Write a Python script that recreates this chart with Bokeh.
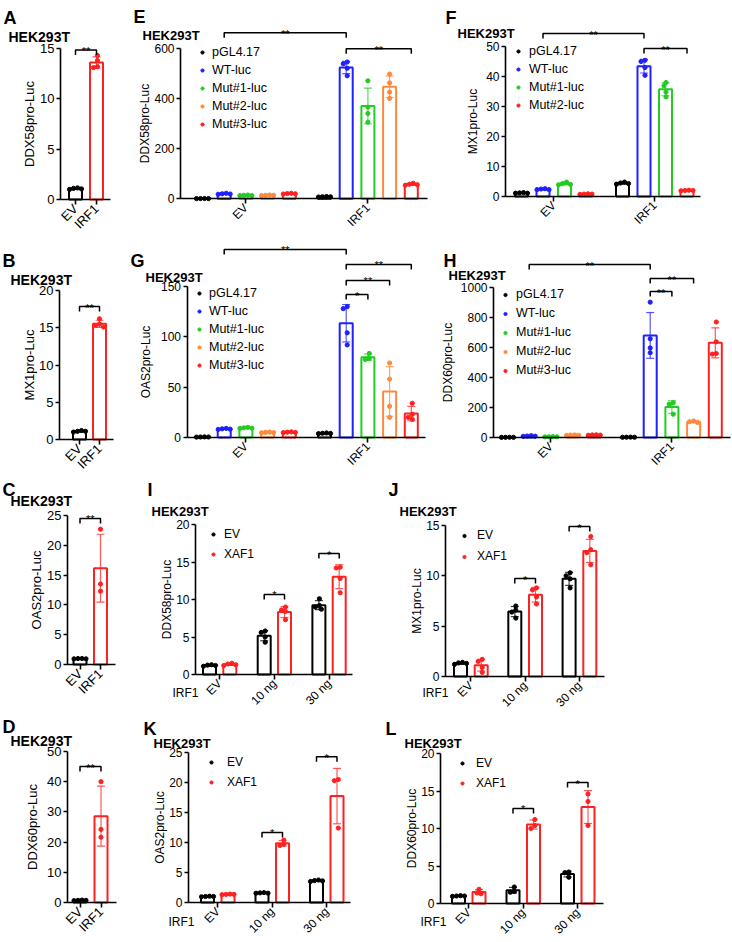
import math
import numpy as np
from bokeh.plotting import figure
from bokeh.models import (Range1d, FixedTicker, Label, Legend, LegendItem,
                          CustomJSTickFormatter)
from bokeh.layouts import row, column
from bokeh.embed import file_html
from bokeh.resources import INLINE
from bokeh.core.properties import value

FONT = "Liberation Sans"
SX = 1.0
SY = 1.0

BLACK = "#000000"
BLUE = "#1f1fff"
GREEN = "#22cc22"
ORANGE = "#ff8a3d"
RED = "#ff2020"

# ---------------- data ----------------
AD_CATS = ["EV", "IRF1"]
A_EV = [1.15, 1.10, 1.05, 1.00]
A_IRF1 = [14.3, 13.8, 13.2, 13.1]
B_EV = [1.20, 1.10, 1.10, 1.00]
B_IRF1 = [16.2, 15.5, 15.3, 15.1]
C_EV = [1.00, 1.00, 0.95, 0.95]
C_IRF1 = [22.7, 13.5, 12.3]
D_EV = [0.80, 0.70, 0.70, 0.60]
D_IRF1 = [40.0, 24.2, 21.6]
A_TICKS = [0, 5, 10, 15]
B_TICKS = [0, 5, 10, 15, 20]
C_TICKS = [0, 5, 10, 15, 20, 25]
D_TICKS = [0, 10, 20, 30, 40, 50]

EH_CATS = ["EV", "IRF1"]
SERIES5 = ["pGL4.17", "WT-luc", "Mut#1-luc", "Mut#2-luc", "Mut#3-luc"]
SERIES4 = ["pGL4.17", "WT-luc", "Mut#1-luc", "Mut#2-luc"]

E_pGL = [[1.2, 1.0, 0.9, 0.8], [9, 8, 8, 7]]
E_WT = [[22, 20, 19, 18], [545, 538, 520, 490]]
E_Mut1 = [[15, 14, 13, 13], [470, 365, 340, 305]]
E_Mut2 = [[15, 14, 14, 13], [497, 462, 425, 400]]
E_Mut3 = [[22, 21, 20, 19], [62, 58, 56, 54]]
E_TICKS = [0, 200, 400, 600]

F_pGL = [[1.3, 1.2, 1.1, 1.1], [4.8, 4.5, 4.3, 4.1]]
F_WT = [[2.6, 2.5, 2.3, 2.3], [45.4, 45.0, 43.0, 40.4]]
F_Mut1 = [[4.8, 4.3, 4.0, 3.9], [38.0, 36.9, 34.8, 33.2]]
F_Mut2 = [[0.9, 0.8, 0.8, 0.7], [2.1, 2.0, 2.0, 1.9]]
F_TICKS = [0, 10, 20, 30, 40, 50]

G_pGL = [[0.6, 0.5, 0.5, 0.4], [4.5, 4.2, 4.0, 3.8]]
G_WT = [[9.0, 8.6, 8.3, 8.0], [130, 128, 104, 92]]
G_Mut1 = [[10.0, 9.6, 9.3, 9.0], [83.5, 78.5, 77.5]]
G_Mut2 = [[5.4, 5.1, 4.9, 4.7], [74, 58, 31, 20]]
G_Mut3 = [[5.6, 5.3, 5.1, 4.9], [34, 23, 20, 18]]
G_TICKS = [0, 50, 100, 150]

H_pGL = [[1.5, 1.2, 1.0, 0.8], [2.5, 2.0, 1.8, 1.5]]
H_WT = [[12, 10, 9, 8], [902, 658, 597, 565]]
H_Mut1 = [[6, 5, 5, 4], [232, 222, 155]]
H_Mut2 = [[17, 16, 15, 14], [110, 105, 100]]
H_Mut3 = [[18, 17, 16, 15], [770, 638, 560, 556]]
H_TICKS = [0, 200, 400, 600, 800, 1000]

IL_CATS = ["EV", "10 ng", "30 ng"]
IL_SERIES = ["EV", "XAF1"]
I_EV = [[1.3, 1.25, 1.2, 1.1], [5.8, 5.6, 5.0, 4.3], [10.1, 9.2, 9.0, 8.7]]
I_XAF1 = [[1.5, 1.4, 1.3, 1.2], [9.0, 8.6, 8.4, 7.3], [14.3, 14.2, 12.8, 10.9]]
I_TICKS = [0, 5, 10, 15, 20]
J_EV = [[1.4, 1.35, 1.3, 1.2], [7.0, 6.6, 6.4, 5.8], [10.3, 10.0, 9.7, 8.8]]
J_XAF1 = [[1.7, 1.5, 0.9, 0.4], [8.8, 8.6, 7.9, 7.2], [13.9, 12.6, 12.3, 11.1]]
J_TICKS = [0, 5, 10, 15]
K_EV = [[1.05, 1.0, 1.0, 0.95], [1.65, 1.6, 1.55, 1.55], [3.75, 3.65, 3.6, 3.5]]
K_XAF1 = [[1.4, 1.35, 1.35, 1.3], [10.4, 9.7, 9.5], [20.5, 20.3, 12.4]]
K_TICKS = [0, 5, 10, 15, 20, 25]
L_EV = [[1.05, 1.0, 1.0, 0.95], [2.2, 1.6, 1.5], [4.2, 4.1, 3.5]]
L_XAF1 = [[1.9, 1.4, 1.3], [11.2, 10.4, 10.0], [14.6, 13.6, 10.4]]
L_TICKS = [0, 5, 10, 15, 20]

# brackets: (group a, position a, group b, position b, height, stars)
A_BR = [(0, 0, 1, 0, 14.85, "**")]
B_BR = [(0, 0, 1, 0, 17.85, "**")]
C_BR = [(0, 0, 1, 0, 24.5, "**")]
D_BR = [(0, 0, 1, 0, 45.0, "**")]
E_BR = [(0, 1, 1, 1, 662, "**"), (1, 1, 1, 4, 598, "**")]
F_BR = [(0, 1, 1, 1, 54.3, "**"), (1, 1, 1, 3, 49.3, "**")]
G_BR = [(0, 1, 1, 1, 186.8, "**"), (1, 1, 1, 4, 171.9, "**"),
        (1, 1, 1, 3, 156.0, "**"), (1, 1, 1, 2, 142.0, "*")]
H_BR = [(0, 1, 1, 1, 1153, "**"), (1, 1, 1, 3, 1060, "**"), (1, 1, 1, 2, 973, "**")]
I_BR = [(1, 0, 1, 1, 10.67, "*"), (2, 0, 2, 1, 16.13, "*")]
J_BR = [(1, 0, 1, 1, 9.73, "*"), (2, 0, 2, 1, 14.9, "*")]
K_BR = [(1, 0, 1, 1, 11.67, "*"), (2, 0, 2, 1, 24.3, "*")]
L_BR = [(1, 0, 1, 1, 12.67, "*"), (2, 0, 2, 1, 16.13, "*")]


def swarm(vals, ppu, d=4.0):
    order = sorted(range(len(vals)), key=lambda i: -vals[i])
    placed = []
    offs = [0.0] * len(vals)
    cands = [0, -0.5, 0.5, -1, 1, -1.5, 1.5, -2, 2]
    for i in order:
        yv = vals[i] * ppu
        xo = 0.0
        for c in cands:
            xo = c * d
            if all((xo - px) ** 2 + (yv - py) ** 2 >= 0.9 * d * d for px, py in placed):
                break
        placed.append((xo, yv))
        offs[i] = xo
    m = sum(offs) / len(offs)
    return [o - m for o in offs]


def build(box, lay, cats, series, ticks, ylabel, brackets, letter, title,
          leg=None, extra=None):
    L, T, R, B = box
    W, H = R - L, B - T
    pitch = lay["pitch"] * SX
    x0 = lay["x0"] * SX
    stride = lay["stride"] / lay["pitch"]
    ay = lay["axis_y"] * SY
    ppu = (lay["axis_y"] - lay["top_y"]) * SY / ticks[-1]
    xs, xe = (L - x0) / pitch, (R - x0) / pitch
    ys, ye = -(B - ay) / ppu, (ay - T) / ppu
    x_axis = (lay["axis_x"] * SX - x0) / pitch
    fs = lay.get("fs", 12)

    p = figure(width=W, height=H, x_range=Range1d(xs, xe), y_range=Range1d(ys, ye),
               output_backend="svg", toolbar_location=None, title=None,
               min_border_left=0, min_border_bottom=0, min_border_top=0,
               min_border_right=0)
    p.outline_line_color = None
    p.xgrid.visible = False
    p.ygrid.visible = False
    p.background_fill_color = "white"
    p.border_fill_color = "white"

    ya = p.yaxis[0]
    ya.fixed_location = x_axis
    ya.ticker = FixedTicker(ticks=ticks)
    ya.bounds = (0, ticks[-1])
    ya.minor_tick_line_color = None
    ya.major_tick_out = 4
    ya.major_tick_in = 0
    ya.axis_line_width = 1.6
    ya.major_tick_line_width = 1.6
    ya.major_label_text_font = FONT
    ya.major_label_text_font_size = f"{fs}px"
    ya.major_label_text_color = "black"
    ya.major_label_standoff = 2
    ya.axis_label = ylabel
    ya.axis_label_text_font = FONT
    ya.axis_label_text_font_size = f"{fs}px"
    ya.axis_label_text_font_style = "normal"
    ya.axis_label_text_color = "black"
    ya.axis_label_standoff = lay.get("lab_so", -1)

    ncat = len(cats)
    centers = [g * stride + lay["center"] for g in range(ncat)]
    xa = p.xaxis[0]
    xa.fixed_location = 0
    xa.ticker = FixedTicker(ticks=centers)
    xa.formatter = CustomJSTickFormatter(args=dict(labels=cats), code="return labels[index];")
    xa.bounds = (x_axis, (lay["axis_end"] * SX - x0) / pitch)
    xa.minor_tick_line_color = None
    xa.major_tick_out = 5
    xa.major_tick_in = 0
    xa.axis_line_width = 1.6
    xa.major_tick_line_width = 1.6
    xa.major_label_orientation = math.pi / 4
    xa.major_label_text_font = FONT
    xa.major_label_text_font_size = f"{fs}px"
    xa.major_label_text_color = "black"
    xa.major_label_standoff = 2

    bw = 13.0 * SX / pitch
    cw = 4.0 * SX / pitch
    rends = []
    for name, color, spos, groups in series:
        bx, bt, px, py = [], [], [], []
        ex, elo, ehi = [], [], []
        for g, pts in enumerate(groups):
            if pts is None:
                continue
            xc = g * stride + spos
            arr = np.array(pts, dtype=float)
            m = float(arr.mean())
            sd = float(arr.std(ddof=1))
            bx.append(xc)
            bt.append(m)
            ex.append(xc)
            elo.append(m - sd)
            ehi.append(m + sd)
            for v, o in zip(pts, swarm(pts, ppu)):
                px.append(xc + o * SX / pitch)
                py.append(v)
        p.vbar(x=bx, top=bt, bottom=0, width=bw, fill_color="white",
               line_color=color, line_width=2)
        p.segment(x0=ex, y0=elo, x1=ex, y1=ehi, line_color=color, line_width=1.2, line_alpha=0.75)
        p.segment(x0=[x - cw for x in ex], y0=ehi, x1=[x + cw for x in ex], y1=ehi,
                  line_color=color, line_width=1.2, line_alpha=0.75)
        p.segment(x0=[x - cw for x in ex], y0=elo, x1=[x + cw for x in ex], y1=elo,
                  line_color=color, line_width=1.2, line_alpha=0.75)
        r = p.scatter(x=px, y=py, size=4.2, marker="circle", fill_color=color,
                      line_color=color)
        rends.append((name, r))

    drop = 5.0 / ppu
    mxs, mys, tx, ty, tt = [], [], [], [], []
    for ga, sa, gb, sb, yv, txt in brackets:
        xa_ = ga * stride + sa
        xb_ = gb * stride + sb
        mxs.append([xa_, xa_, xb_, xb_])
        mys.append([yv - drop, yv, yv, yv - drop])
        tx.append((xa_ + xb_) / 2)
        ty.append(yv - 1.0 / ppu)
        tt.append(txt)
    p.multi_line(xs=mxs, ys=mys, line_color="black", line_width=1.5)
    p.text(x=tx, y=ty, text=tt, text_font=value(FONT), text_font_size="11px",
           text_align="center", text_baseline="alphabetic", text_color="black")

    def lab(txt, xr, yr, size, bold):
        p.add_layout(Label(x=xr * SX - L, y=B - yr * SY, x_units="screen",
                           y_units="screen", text=txt, text_font=FONT,
                           text_font_size=size, text_font_style="bold" if bold else "normal",
                           text_align="left", text_baseline="alphabetic",
                           text_color="black"))

    lab(letter[0], letter[1], letter[2], "18px", True)
    lab("HEK293T", title[0], title[1], title[2], True)
    if extra is not None:
        lab(extra[0], extra[1], extra[2], f"{fs}px", False)

    if leg is not None:
        rh = int(round(leg["row_h"] * SY))
        n = len(rends)
        gw = 8
        vx = leg["dot"] * SX - gw / 2 - L
        top_c = leg["row1"] * SY - rh / 2.0
        vy = B - (top_c + n * rh)
        legend = Legend(items=[LegendItem(label=value(nm), renderers=[r]) for nm, r in rends],
                        location=(vx, vy), orientation="vertical", padding=0, spacing=0,
                        margin=0, glyph_width=gw, glyph_height=rh, label_height=rh,
                        label_standoff=int(round((leg["text"] - leg["dot"]) * SX - gw / 2)),
                        label_text_font=FONT, label_text_font_size=leg["fs"],
                        label_text_color="black",
                        border_line_color=None, background_fill_alpha=0)
        p.add_layout(legend)
    return p


# ---------------- panels ----------------
pA = build((0, 0, 120, 243),
           dict(axis_x=60, axis_y=199, top_y=48, axis_end=110, x0=75, pitch=21, stride=21,
                center=0, fs=13, lab_so=0),
           AD_CATS, [("EV", BLACK, 0, [A_EV, None]), ("IRF1", RED, 0, [None, A_IRF1])],
           A_TICKS, "DDX58pro-Luc", A_BR, ("A", 3, 17.5), (8, 36.7, "14px"))
pB = build((0, 243, 120, 476),
           dict(axis_x=59, axis_y=439, top_y=290, axis_end=113, x0=79, pitch=20, stride=20,
                center=0, fs=13, lab_so=-1),
           AD_CATS, [("EV", BLACK, 0, [B_EV, None]), ("IRF1", RED, 0, [None, B_IRF1])],
           B_TICKS, "MX1pro-Luc", B_BR, ("B", 2, 260.7), (10, 279.3, "14px"))
pC = build((0, 476, 120, 703),
           dict(axis_x=67, axis_y=664, top_y=515, axis_end=115, x0=79.5, pitch=20.5,
                stride=20.5, center=0, fs=13, lab_so=0),
           AD_CATS, [("EV", BLACK, 0, [C_EV, None]), ("IRF1", RED, 0, [None, C_IRF1])],
           C_TICKS, "OAS2pro-Luc", C_BR, ("C", 2, 489), (10, 500.5, "14px"))
pD = build((0, 703, 120, 942),
           dict(axis_x=67, axis_y=902, top_y=751, axis_end=116, x0=79.5, pitch=21, stride=21,
                center=0, fs=13, lab_so=4),
           AD_CATS, [("EV", BLACK, 0, [D_EV, None]), ("IRF1", RED, 0, [None, D_IRF1])],
           D_TICKS, "DDX60pro-Luc", D_BR, ("D", 2, 726), (10, 740, "14px"))

C5 = [BLACK, BLUE, GREEN, ORANGE, RED]
C4 = [BLACK, BLUE, GREEN, RED]

pE = build((120, 0, 440, 241),
           dict(axis_x=180, axis_y=198.3, top_y=47.7, axis_end=427, x0=202, pitch=21.7,
                stride=122, center=2, lab_so=-1),
           EH_CATS, [(SERIES5[i], C5[i], i, d) for i, d in
                     enumerate([E_pGL, E_WT, E_Mut1, E_Mut2, E_Mut3])],
           E_TICKS, "DDX58pro-Luc", E_BR, ("E", 133, 16.7), (142, 35, "13px"),
           leg=dict(dot=202, text=212, row1=52, row_h=18.5, fs="12.5px"))
pF = build((440, 0, 732, 241),
           dict(axis_x=505, axis_y=196, top_y=46, axis_end=700, x0=521, pitch=21.5,
                stride=101, center=1.5, lab_so=3),
           EH_CATS, [(SERIES4[i], C4[i], i, d) for i, d in
                     enumerate([F_pGL, F_WT, F_Mut1, F_Mut2])],
           F_TICKS, "MX1pro-Luc", F_BR, ("F", 445, 17), (457, 33.3, "13px"),
           leg=dict(dot=518, text=529, row1=51, row_h=18.3, fs="12.5px"))
pG = build((120, 241, 440, 476),
           dict(axis_x=186.5, axis_y=437, top_y=286, axis_end=425, x0=202, pitch=21.7,
                stride=122, center=2, lab_so=5),
           EH_CATS, [(SERIES5[i], C5[i], i, d) for i, d in
                     enumerate([G_pGL, G_WT, G_Mut1, G_Mut2, G_Mut3])],
           G_TICKS, "OAS2pro-Luc", G_BR, ("G", 130, 260), (145, 276.7, "13px"),
           leg=dict(dot=199, text=209, row1=293, row_h=18.5, fs="12.5px"))
pH = build((440, 241, 732, 476),
           dict(axis_x=493, axis_y=437, top_y=287, axis_end=730, x0=507, pitch=21.7,
                stride=121, center=2, lab_so=3),
           EH_CATS, [(SERIES5[i], C5[i], i, d) for i, d in
                     enumerate([H_pGL, H_WT, H_Mut1, H_Mut2, H_Mut3])],
           H_TICKS, "DDX60pro-Luc", H_BR, ("H", 443, 260), (448, 275, "13px"),
           leg=dict(dot=505, text=516, row1=294, row_h=18.75, fs="12.5px"))

pI = build((120, 476, 380, 712),
           dict(axis_x=195, axis_y=674, top_y=524, axis_end=352, x0=209, pitch=20.3,
                stride=54.7, center=0.5, lab_so=-1),
           IL_CATS, [("EV", BLACK, 0, I_EV), ("XAF1", RED, 1, I_XAF1)],
           I_TICKS, "DDX58pro-Luc", I_BR, ("I", 147, 489), (151, 511, "13px"),
           leg=dict(dot=213, text=224, row1=534, row_h=20, fs="12px"),
           extra=("IRF1", 172, 692.7))
pJ = build((380, 476, 732, 712),
           dict(axis_x=445, axis_y=676, top_y=525, axis_end=604, x0=460, pitch=20.7,
                stride=54.3, center=0.5, lab_so=-1),
           IL_CATS, [("EV", BLACK, 0, J_EV), ("XAF1", RED, 1, J_XAF1)],
           J_TICKS, "MX1pro-Luc", J_BR, ("J", 388, 489), (399, 511, "13px"),
           leg=dict(dot=464, text=477, row1=535, row_h=21, fs="12px"),
           extra=("IRF1", 422, 692.7))
pK = build((120, 712, 380, 942),
           dict(axis_x=188, axis_y=902, top_y=752, axis_end=350, x0=207, pitch=20.5,
                stride=54.5, center=0.5, lab_so=-1),
           IL_CATS, [("EV", BLACK, 0, K_EV), ("XAF1", RED, 1, K_XAF1)],
           K_TICKS, "OAS2pro-Luc", K_BR, ("K", 143, 728), (153, 742.7, "13px"),
           leg=dict(dot=211, text=227, row1=762, row_h=20, fs="12px"),
           extra=("IRF1", 168, 921.7))
pL = build((380, 712, 732, 942),
           dict(axis_x=440, axis_y=903, top_y=753, axis_end=603, x0=458, pitch=20.5,
                stride=54.5, center=0.5, lab_so=-1),
           IL_CATS, [("EV", BLACK, 0, L_EV), ("XAF1", RED, 1, L_XAF1)],
           L_TICKS, "DDX60pro-Luc", L_BR, ("L", 385, 728), (404, 742.7, "13px"),
           leg=dict(dot=462, text=476, row1=763, row_h=20, fs="12px"),
           extra=("IRF1", 420, 921.7))

left = column(pA, pB, pC, pD)
right = column(row(pE, pF), row(pG, pH), row(pI, pJ), row(pK, pL))
page = row(left, right)

open("out.html", "w").write(file_html(page, INLINE))
